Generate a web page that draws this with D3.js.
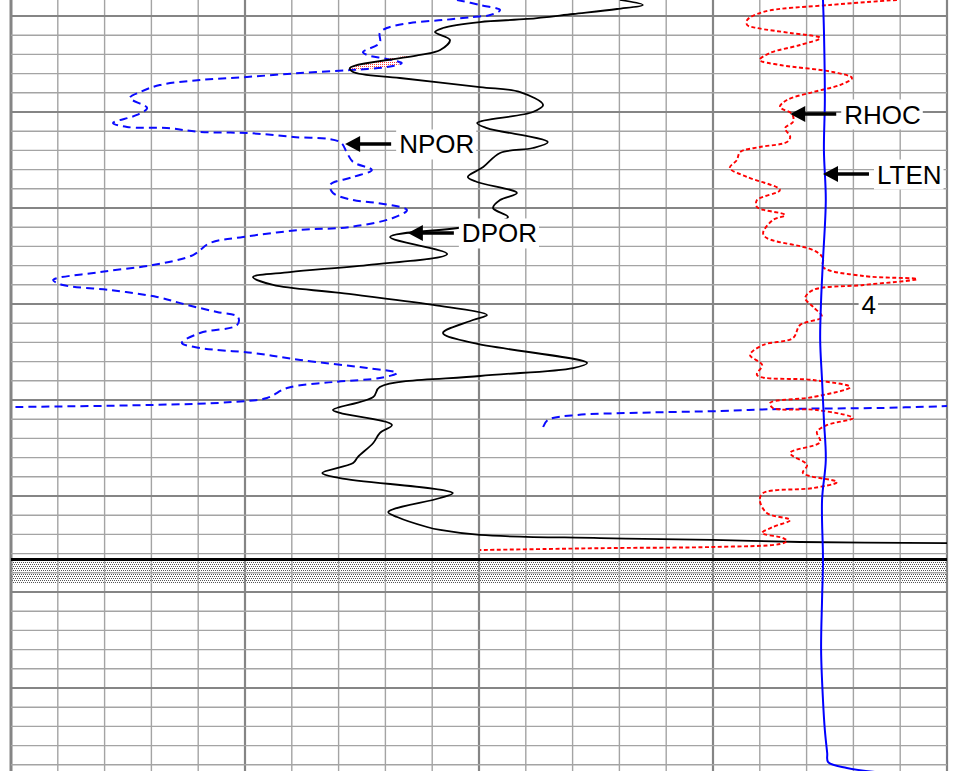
<!DOCTYPE html>
<html>
<head>
<meta charset="utf-8">
<script src="https://cdn.jsdelivr.net/npm/d3@7"></script>
<style>
  html, body { margin: 0; padding: 0; background: #fff; }
  svg { display: block; }
</style>
</head>
<body>
<svg id="chart" width="960" height="771"></svg>
<script>
// ---- Data (depth in ft, value in chart grid divisions 0..20) ----
const dpor = [
  [368.33,13.01],[368.85,13.50],[369.27,12.95],[369.79,12.01],[370.31,11.03],[370.63,10.02],
  [371.25,9.23],[371.67,9.06],[372.50,9.38],[373.54,9.17],[374.06,8.74],[375.42,7.24],
  [375.83,7.31],[376.46,8.31],[377.40,10.02],[377.92,10.88],[379.27,11.37],[380.00,11.15],
  [381.15,9.96],[381.67,10.17],[383.13,11.47],[383.75,11.15],[384.27,10.45],[385.73,10.09],
  [386.77,9.76],[387.29,9.96],[388.44,10.81],[389.17,10.45],[390.00,10.30],[390.94,10.62],
  [391.98,9.70],[393.02,8.10],[394.79,9.32],[395.94,7.61],[396.67,5.96],[397.19,5.17],
  [398.02,5.60],[398.85,7.03],[400.10,9.02],[401.15,10.17],[401.67,9.87],[403.02,9.23],
  [404.06,9.87],[406.15,12.31],[406.67,12.01],[407.50,10.02],[408.65,7.88],[409.69,7.74],
  [411.04,6.88],[411.35,7.03],[412.60,8.14],[413.44,7.88],[414.48,7.74],[415.94,7.41],
  [416.56,7.31],[417.60,6.65],[418.13,7.03],[419.69,9.44],[420.21,9.17],[421.67,8.06],
  [422.19,8.25],[423.23,8.89],[423.54,9.17],[424.06,10.02],[424.38,12.59],[424.58,15.00],
  [424.79,16.86],[424.90,20.00]
];
const npor = [
  [368.33,9.53],[368.85,10.02],[369.38,10.45],[369.90,10.24],[370.10,9.87],[370.42,9.23],
  [370.73,8.53],[371.25,8.03],[371.77,7.88],[372.81,7.88],[373.75,7.52],[374.06,7.61],
  [374.48,8.03],[374.90,8.35],[375.21,8.16],[375.52,7.61],[375.63,7.24],[375.94,6.18],
  [376.35,5.04],[376.67,4.04],[377.19,3.18],[377.92,2.76],[378.54,2.54],[379.58,2.91],
  [380.31,2.69],[381.15,2.18],[381.56,2.48],[381.67,3.33],[382.08,4.04],[382.19,5.04],
  [382.60,6.03],[383.13,7.03],[384.27,7.18],[385.21,7.31],[386.04,7.71],[386.77,7.31],
  [387.60,6.82],[388.44,6.88],[389.17,7.31],[389.48,7.82],[390.21,8.46],[391.04,8.16],
  [391.98,7.24],[392.29,6.18],[393.02,4.96],[393.65,4.25],[394.90,3.89],[395.94,3.03],
  [396.67,1.90],[397.50,0.90],[398.02,1.11],[398.54,2.12],[399.27,3.12],[400.10,3.76],
  [400.83,4.40],[401.35,4.85],[402.19,4.83],[403.02,4.04],[404.06,3.65],[404.58,4.04],
  [405.10,5.17],[405.83,6.18],[406.67,7.61],[407.19,8.25],[407.71,7.88],[408.13,6.88],
  [408.75,5.90],[409.79,5.47],[410.21,4.74],[410.52,2.97],[410.73,0.00]
];
const nporLower = [
  [412.81,11.37],[412.08,11.47],[411.56,12.09],[411.35,13.23],[411.15,15.15],[410.94,16.43],
  [410.83,18.57],[410.63,20.00]
];
const rhoc = [
  [368.33,18.93],[368.85,17.50],[369.58,16.07],[370.42,15.73],[370.94,15.73],[371.25,15.94],
  [371.77,16.65],[372.29,17.29],[373.02,16.86],[373.85,16.22],[374.58,16.00],[375.10,16.43],
  [375.83,17.56],[376.46,17.97],[377.19,17.71],[377.92,17.14],[378.75,16.58],[379.48,16.43],
  [380.21,16.69],[381.04,16.71],[381.67,16.54],[382.60,16.65],[383.13,16.58],[383.65,16.00],
  [384.17,15.58],[385.00,15.51],[385.83,15.36],[386.77,15.73],[388.13,16.43],[389.17,15.94],
  [389.90,15.94],[390.73,16.54],[391.25,16.28],[392.60,16.07],[393.13,16.15],[394.38,17.14],
  [395.21,17.35],[396.15,17.35],[397.08,18.21],[397.40,19.36],[398.02,18.21],[398.54,17.14],
  [399.38,16.97],[400.31,17.14],[401.35,17.33],[402.19,16.86],[403.54,16.71],[404.27,16.07],
  [405.31,15.79],[406.35,16.05],[407.40,15.94],[407.92,17.14],[408.65,17.93],[409.69,17.14],
  [410.31,16.22],[410.83,16.28],[411.04,17.22],[411.88,17.99],[412.60,17.44],[413.33,17.22],
  [414.38,17.29],[415.52,16.65],[416.77,17.01],[417.60,16.92],[418.54,17.65],[419.17,17.14],
  [419.69,16.07],[420.42,16.00],[421.77,16.15],[422.50,16.65],[423.23,16.28],[423.85,16.05],
  [424.38,16.50],[424.69,16.58],[425.00,16.43],[425.31,15.00],[425.42,12.86],[425.52,11.45],
  [425.63,10.02]
];
const lten = [
  [368.33,17.35],[371.46,17.37],[378.75,17.39],[383.96,17.37],[389.17,17.41],[395.42,17.35],
  [399.58,17.31],[403.75,17.29],[407.92,17.33],[412.08,17.37],[416.25,17.41],[420.42,17.33],
  [426.67,17.35],[430.83,17.33],[436.04,17.31],[441.25,17.35],[444.38,17.39],[446.77,17.44],
  [447.71,17.46],[448.33,17.86],[448.75,18.46]
];
const annoLabels = ["NPOR", "DPOR", "RHOC", "LTEN"];
const annoDepths = [383.33, 392.60, 380.21, 386.46];
const annoValues = [7.14, 8.48, 16.65, 17.35];
const depthMarkLabel = "4";
const depthMarkDepth = 400;
const depthMarkValue = 18.33;
const toolDepth = 426.61;          // heavy line
const casingTop = 426.77, casingBottom = 429.06;  // stippled band

// ---- Scales ----
const svg = d3.select("#chart");
const x = d3.scaleLinear().domain([0, 20]).range([11, 947]);
const y = d3.scaleLinear().domain([370, 450]).range([16, 784]);

// ---- Patterns ----
const defs = svg.append("defs");
const stip = defs.append("pattern").attr("id", "stip").attr("patternUnits", "userSpaceOnUse")
  .attr("width", 2).attr("height", 4);
stip.append("rect").attr("width", 2).attr("height", 4).attr("fill", "#fff");
stip.append("rect").attr("x", 0).attr("y", 0).attr("width", 1).attr("height", 1).attr("fill", "#555");
stip.append("rect").attr("x", 1).attr("y", 2).attr("width", 1).attr("height", 1).attr("fill", "#555");
const pink = defs.append("pattern").attr("id", "pink").attr("patternUnits", "userSpaceOnUse")
  .attr("width", 2).attr("height", 2);
pink.append("rect").attr("width", 2).attr("height", 2).attr("fill", "#fff");
pink.append("rect").attr("width", 1).attr("height", 1).attr("fill", "#ff4040");

// ---- Stippled band ----
svg.append("rect")
  .attr("x", x(0)).attr("width", x(20) - x(0))
  .attr("y", y(casingTop)).attr("height", y(casingBottom) - y(casingTop))
  .attr("fill", "url(#stip)");

// ---- Grid ----
const grid = svg.append("g");
const vTicks = d3.range(0, 21);
grid.selectAll("line.v").data(vTicks).join("line")
  .attr("x1", d => x(d)).attr("x2", d => x(d))
  .attr("y1", 0).attr("y2", 771)
  .attr("stroke", d => d % 5 === 0 ? "#858585" : "#a4a4a4")
  .attr("stroke-width", d => (d === 0) ? 3 : (d % 5 === 0 ? 2.2 : 1.4));
const hTicks = d3.range(370, 449, 2);
grid.selectAll("line.h").data(hTicks).join("line")
  .attr("x1", x(0)).attr("x2", x(20))
  .attr("y1", d => y(d)).attr("y2", d => y(d))
  .attr("stroke", d => (d - 370) % 10 === 0 ? "#858585" : "#a4a4a4")
  .attr("stroke-width", d => (d - 370) % 10 === 0 ? 2.2 : 1.4);

// ---- Heavy line ----
svg.append("line")
  .attr("x1", x(0)).attr("x2", x(20))
  .attr("y1", y(toolDepth)).attr("y2", y(toolDepth))
  .attr("stroke", "#000").attr("stroke-width", 3);

// ---- Curves ----
const line = d3.line()
  .x(d => x(d[1])).y(d => y(d[0]))
  .curve(d3.curveCatmullRom.alpha(0.5));

// crossover shading between DPOR and NPOR
svg.append("path")
  .attr("d", d3.line().x(d => x(d[1])).y(d => y(d[0])).curve(d3.curveCatmullRomClosed.alpha(0.5))(
     [dpor[10], dpor[11], npor[16], npor[15], npor[14], npor[13], npor[12]]))
  .attr("fill", "url(#pink)").attr("stroke", "none");

svg.append("path").attr("d", line(npor))
  .attr("fill", "none").attr("stroke", "#0a0aff").attr("stroke-width", 2)
  .attr("stroke-dasharray", "8,5");
svg.append("path").attr("d", line(nporLower))
  .attr("fill", "none").attr("stroke", "#0a0aff").attr("stroke-width", 2)
  .attr("stroke-dasharray", "8,5");
svg.append("path").attr("d", line(dpor))
  .attr("fill", "none").attr("stroke", "#000").attr("stroke-width", 1.8);
svg.append("path").attr("d", line(rhoc))
  .attr("fill", "none").attr("stroke", "#ff0000").attr("stroke-width", 1.9)
  .attr("stroke-dasharray", "4,2.5");
svg.append("path").attr("d", line(lten))
  .attr("fill", "none").attr("stroke", "#0000ff").attr("stroke-width", 2);

// ---- Annotations ----
const font = "'Liberation Sans', Arial, sans-serif";
function labelBox(g, tx, ty, text, anchor) {
  const t = g.append("text").attr("x", tx).attr("y", ty)
    .attr("font-family", font).attr("font-size", 26)
    .attr("text-anchor", anchor || "start").attr("fill", "#000").text(text);
  const bb = t.node().getBBox();
  g.insert("rect", "text")
    .attr("x", bb.x - 3).attr("y", bb.y).attr("width", bb.width + 5).attr("height", bb.height)
    .attr("fill", "#fff");
}
annoLabels.forEach((lab, i) => {
  const g = svg.append("g");
  const tx = x(annoValues[i]), ty = y(annoDepths[i]);
  const textX = tx + 54;
  labelBox(g, textX, ty + 9.5, lab);
  g.append("line").attr("x1", tx + 12).attr("x2", textX - 8)
    .attr("y1", ty).attr("y2", ty).attr("stroke", "#000").attr("stroke-width", 3.5);
  g.append("path")
    .attr("d", d3.line()([[tx, ty], [tx + 15, ty - 8], [tx + 15, ty + 8]]) + "Z")
    .attr("fill", "#000");
});
const gm = svg.append("g");
labelBox(gm, x(depthMarkValue), y(depthMarkDepth) + 9.5, depthMarkLabel, "middle");
</script>
</body>
</html>
